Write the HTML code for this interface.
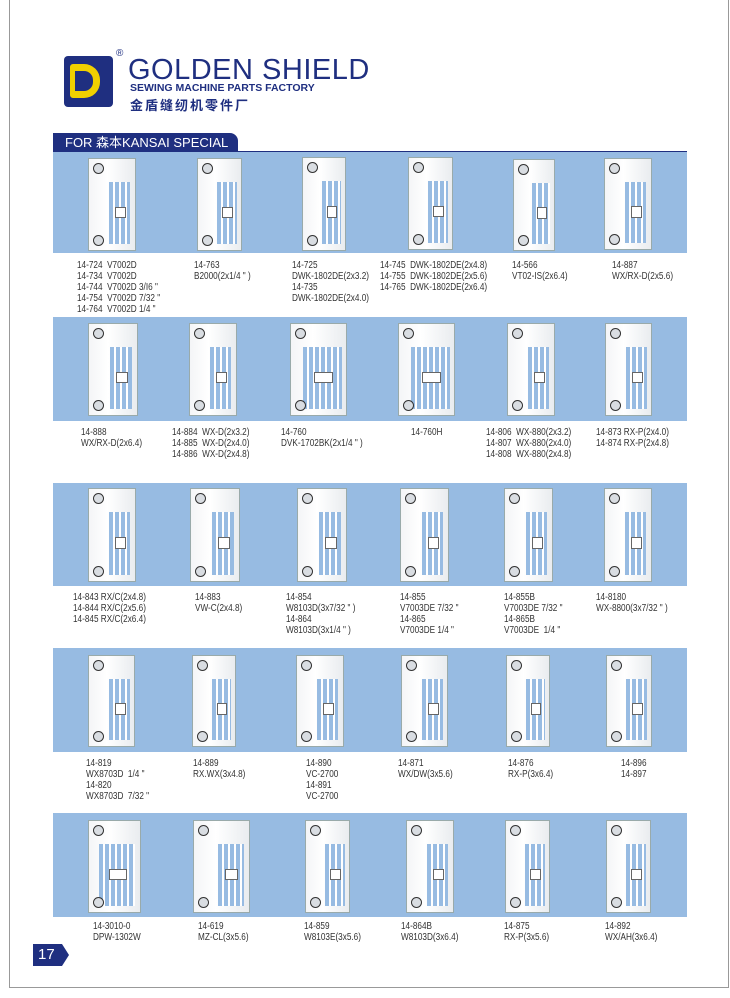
<!DOCTYPE html>
<html><head><meta charset="utf-8"><style>
*{margin:0;padding:0;box-sizing:border-box}
body{width:730px;height:998px;background:#fff;position:relative;overflow:hidden;font-family:"Liberation Sans",sans-serif}
.frame{position:absolute;left:9px;top:-2px;width:720px;height:990px;border:1px solid #999;border-top:none}
.band{position:absolute;left:53px;width:634px;background:#97bbe2}
.p{position:absolute;background:linear-gradient(90deg,#f4f5f7,#fff 40%,#e9ecef);border:1px solid #9aa}
.p:before,.p:after{content:"";position:absolute;left:4px;width:9px;height:9px;border-radius:50%;background:#d9dde2;border:1.5px solid #333}
.p:before{top:4px}.p:after{bottom:4px}
.s{position:absolute;right:10%;top:25%;width:46%;height:68%;background:repeating-linear-gradient(90deg,#97bbe2 0 4px,#fff 4px 6px)}
.s:before{content:"";position:absolute;left:28%;top:40%;width:44%;height:16%;background:#fff;border:1px solid #666}
.t{position:absolute;font-size:10px;line-height:11px;color:#333;white-space:pre;transform:scaleX(0.82);transform-origin:0 0}
</style></head><body>
<div class="frame"></div>
<div style="position:absolute;left:64px;top:56px;width:49px;height:51px;background:#1f2f80;border-radius:4px"></div>
<div style="position:absolute;left:70px;top:64px;width:30px;height:34px;border:7px solid #f0d000;border-left-width:5px;border-radius:3px 16px 16px 3px"></div>
<div style="position:absolute;left:116px;top:48px;font-size:10px;color:#1f2f80">®</div>
<div style="position:absolute;left:128px;top:55px;font-size:29px;color:#1f2f80;letter-spacing:0.5px;line-height:30px">GOLDEN SHIELD</div>
<div style="position:absolute;left:130px;top:82px;font-size:10.5px;font-weight:bold;color:#1f2f80">SEWING MACHINE PARTS FACTORY</div>
<div style="position:absolute;left:130px;top:95px;font-size:13px;font-weight:bold;color:#1f2f80;letter-spacing:2px;font-family:'Liberation Sans','Noto Sans CJK SC',sans-serif">金盾缝纫机零件厂</div>
<div style="position:absolute;left:53px;top:133px;width:185px;height:19px;background:#1f2f80;border-radius:0 8px 0 0;color:#fff;font-size:13px;line-height:19px;padding-left:12px;font-family:'Liberation Sans','Noto Sans CJK SC',sans-serif">FOR 森本KANSAI SPECIAL</div>
<div style="position:absolute;left:53px;top:151px;width:634px;height:2px;background:#1f2f80"></div>

<div class="band" style="top:152px;height:101px"></div>
<div class="band" style="top:317px;height:104px"></div>
<div class="band" style="top:483px;height:103px"></div>
<div class="band" style="top:648px;height:104px"></div>
<div class="band" style="top:813px;height:104px"></div>

<div class="p" style="left:88px;top:158px;width:48px;height:93px"><div class="s"></div></div>
<div class="p" style="left:197px;top:158px;width:45px;height:93px"><div class="s"></div></div>
<div class="p" style="left:302px;top:157px;width:44px;height:94px"><div class="s"></div></div>
<div class="p" style="left:408px;top:157px;width:45px;height:93px"><div class="s"></div></div>
<div class="p" style="left:513px;top:159px;width:42px;height:92px"><div class="s"></div></div>
<div class="p" style="left:604px;top:158px;width:48px;height:92px"><div class="s"></div></div>

<div class="p" style="left:88px;top:323px;width:50px;height:93px"><div class="s"></div></div>
<div class="p" style="left:189px;top:323px;width:48px;height:93px"><div class="s"></div></div>
<div class="p" style="left:290px;top:323px;width:57px;height:93px"><div class="s" style="width:70%;right:8%"></div></div>
<div class="p" style="left:398px;top:323px;width:57px;height:93px"><div class="s" style="width:70%;right:8%"></div></div>
<div class="p" style="left:507px;top:323px;width:48px;height:93px"><div class="s"></div></div>
<div class="p" style="left:605px;top:323px;width:47px;height:93px"><div class="s"></div></div>

<div class="p" style="left:88px;top:488px;width:48px;height:94px"><div class="s"></div></div>
<div class="p" style="left:190px;top:488px;width:50px;height:94px"><div class="s"></div></div>
<div class="p" style="left:297px;top:488px;width:50px;height:94px"><div class="s"></div></div>
<div class="p" style="left:400px;top:488px;width:49px;height:94px"><div class="s"></div></div>
<div class="p" style="left:504px;top:488px;width:49px;height:94px"><div class="s"></div></div>
<div class="p" style="left:604px;top:488px;width:48px;height:94px"><div class="s"></div></div>

<div class="p" style="left:88px;top:655px;width:47px;height:92px"><div class="s"></div></div>
<div class="p" style="left:192px;top:655px;width:44px;height:92px"><div class="s"></div></div>
<div class="p" style="left:296px;top:655px;width:48px;height:92px"><div class="s"></div></div>
<div class="p" style="left:401px;top:655px;width:47px;height:92px"><div class="s"></div></div>
<div class="p" style="left:506px;top:655px;width:44px;height:92px"><div class="s"></div></div>
<div class="p" style="left:606px;top:655px;width:46px;height:92px"><div class="s"></div></div>

<div class="p" style="left:88px;top:820px;width:53px;height:93px"><div class="s" style="width:70%"></div></div>
<div class="p" style="left:193px;top:820px;width:57px;height:93px"><div class="s"></div></div>
<div class="p" style="left:305px;top:820px;width:45px;height:93px"><div class="s"></div></div>
<div class="p" style="left:406px;top:820px;width:48px;height:93px"><div class="s"></div></div>
<div class="p" style="left:505px;top:820px;width:45px;height:93px"><div class="s"></div></div>
<div class="p" style="left:606px;top:820px;width:45px;height:93px"><div class="s"></div></div>

<div class="t" style="left:77px;top:260px">14-724  V7002D
14-734  V7002D
14-744  V7002D 3/I6 "
14-754  V7002D 7/32 "
14-764  V7002D 1/4 "</div>
<div class="t" style="left:194px;top:260px">14-763
B2000(2x1/4 " )</div>
<div class="t" style="left:292px;top:260px">14-725
DWK-1802DE(2x3.2)
14-735
DWK-1802DE(2x4.0)</div>
<div class="t" style="left:380px;top:260px">14-745  DWK-1802DE(2x4.8)
14-755  DWK-1802DE(2x5.6)
14-765  DWK-1802DE(2x6.4)</div>
<div class="t" style="left:512px;top:260px">14-566
VT02-IS(2x6.4)</div>
<div class="t" style="left:612px;top:260px">14-887
WX/RX-D(2x5.6)</div>

<div class="t" style="left:81px;top:427px">14-888
WX/RX-D(2x6.4)</div>
<div class="t" style="left:172px;top:427px">14-884  WX-D(2x3.2)
14-885  WX-D(2x4.0)
14-886  WX-D(2x4.8)</div>
<div class="t" style="left:281px;top:427px">14-760
DVK-1702BK(2x1/4 " )</div>
<div class="t" style="left:411px;top:427px">14-760H</div>
<div class="t" style="left:486px;top:427px">14-806  WX-880(2x3.2)
14-807  WX-880(2x4.0)
14-808  WX-880(2x4.8)</div>
<div class="t" style="left:596px;top:427px">14-873 RX-P(2x4.0)
14-874 RX-P(2x4.8)</div>

<div class="t" style="left:73px;top:592px">14-843 RX/C(2x4.8)
14-844 RX/C(2x5.6)
14-845 RX/C(2x6.4)</div>
<div class="t" style="left:195px;top:592px">14-883
VW-C(2x4.8)</div>
<div class="t" style="left:286px;top:592px">14-854
W8103D(3x7/32 " )
14-864
W8103D(3x1/4 " )</div>
<div class="t" style="left:400px;top:592px">14-855
V7003DE 7/32 "
14-865
V7003DE 1/4 "</div>
<div class="t" style="left:504px;top:592px">14-855B
V7003DE 7/32 "
14-865B
V7003DE  1/4 "</div>
<div class="t" style="left:596px;top:592px">14-8180
WX-8800(3x7/32 " )</div>

<div class="t" style="left:86px;top:758px">14-819
WX8703D  1/4 "
14-820
WX8703D  7/32 "</div>
<div class="t" style="left:193px;top:758px">14-889
RX.WX(3x4.8)</div>
<div class="t" style="left:306px;top:758px">14-890
VC-2700
14-891
VC-2700</div>
<div class="t" style="left:398px;top:758px">14-871
WX/DW(3x5.6)</div>
<div class="t" style="left:508px;top:758px">14-876
RX-P(3x6.4)</div>
<div class="t" style="left:621px;top:758px">14-896
14-897</div>

<div class="t" style="left:93px;top:921px">14-3010-0
DPW-1302W</div>
<div class="t" style="left:198px;top:921px">14-619
MZ-CL(3x5.6)</div>
<div class="t" style="left:304px;top:921px">14-859
W8103E(3x5.6)</div>
<div class="t" style="left:401px;top:921px">14-864B
W8103D(3x6.4)</div>
<div class="t" style="left:504px;top:921px">14-875
RX-P(3x5.6)</div>
<div class="t" style="left:605px;top:921px">14-892
WX/AH(3x6.4)</div>

<div style="position:absolute;left:33px;top:944px;width:29px;height:22px;background:#1f2f80;color:#fff;font-size:15px;line-height:22px;padding-left:5px">17</div>
<div style="position:absolute;left:62px;top:944px;width:0;height:0;border-top:11px solid transparent;border-bottom:11px solid transparent;border-left:7px solid #1f2f80"></div>
</body></html>
